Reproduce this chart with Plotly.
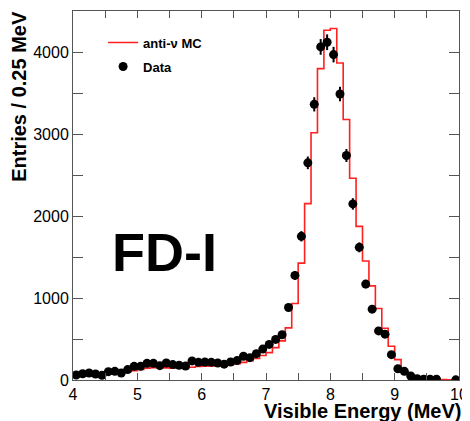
import plotly.graph_objects as go

# ---- data ----
bin_start = 4.0
bin_width = 0.1
n_bins = 60

mc_counts = [60, 65, 68, 70, 72, 78, 85, 92, 100, 115,
             130, 145, 150, 150, 148, 145, 145, 148, 155, 165,
             170, 172, 175, 180, 190, 200, 215, 235, 262, 300,
             334, 396, 478, 637, 935, 1429, 2156, 3022, 3806, 4275,
             4296, 3875, 3183, 2466, 1878, 1454, 1151, 873, 633, 413,
             249, 110, 49, 25, 15, 10, 8, 5, 3, 2]

data_counts = [61, 77, 86, 74, 57, 102, 106, 86, 127, 167,
               167, 204, 204, 175, 208, 188, 180, 171, 233, 216,
               220, 216, 208, 194, 220, 237, 290, 273, 322, 378,
               435, 496, 553, 886, 1278, 1756, 2654, 3369, 4071, 4128,
               3977, 3495, 2744, 2152, 1621, 1172, 866, 600, 560, 310,
               138, 106, 49, 15, 10, 10, 10, None, None, 2]

data_err = [12, 13, 14, 13, 11, 15, 15, 14, 17, 19,
            19, 21, 21, 20, 22, 21, 20, 20, 23, 22,
            22, 22, 22, 21, 22, 23, 26, 25, 27, 29,
            31, 33, 35, 45, 54, 63, 77, 87, 96, 96,
            95, 89, 79, 70, 60, 51, 44, 37, 35, 26,
            18, 15, 10, 6, 5, 5, 5, None, None, 2]

x_tickvals = [4, 4.5, 5, 5.5, 6, 6.5, 7, 7.5, 8, 8.5, 9, 9.5, 10]
x_ticktext = ["4", "", "5", "", "6", "", "7", "", "8", "", "9", "", "10"]
y_tickvals = [0, 500, 1000, 1500, 2000, 2500, 3000, 3500, 4000, 4500]
y_ticktext = ["0", "", "1000", "", "2000", "", "3000", "", "4000", ""]

# ---- derived bin geometry ----
edges = [round(bin_start + bin_width * i, 2) for i in range(n_bins + 1)]
centers = [round(e + bin_width / 2, 3) for e in edges[:-1]]
mc_step_y = mc_counts + [mc_counts[-1]]

FONT = "Liberation Sans, Arial, Helvetica, sans-serif"

fig = go.Figure()
fig.add_trace(go.Scatter(
    x=edges, y=mc_step_y, mode="lines", line_shape="hv",
    line=dict(color="#ff2020", width=1.6),
    name="anti-\u03bd MC", legendgroup="mc"))
fig.add_trace(go.Scatter(
    x=centers, y=data_counts, mode="markers",
    marker=dict(color="black", size=9),
    error_y=dict(type="data", array=data_err, color="black",
                 thickness=2, width=0),
    name="Data", legendgroup="data"))

axis_common = dict(showline=True, linecolor="#555", linewidth=1,
                   mirror="ticks", ticks="inside", tickcolor="#555",
                   showgrid=False, zeroline=False,
                   tickfont=dict(family=FONT, size=16, color="black"))

fig.update_xaxes(range=[4, 10], tickvals=x_tickvals, ticktext=x_ticktext,
                 ticklen=7, **axis_common)
fig.update_yaxes(range=[0, 4510], tickvals=y_tickvals, ticktext=y_ticktext,
                 ticklen=10, **axis_common)

# the page body has an 8px default margin; the figure is sized to fill the rest
fig.update_layout(
    width=462, height=413,
    margin=dict(l=65, r=11, t=3, b=41),
    paper_bgcolor="white", plot_bgcolor="white",
    showlegend=True,
    legend=dict(x=0.078, y=0.955, xanchor="left", yanchor="top",
                bgcolor="rgba(0,0,0,0)", tracegroupgap=4,
                font=dict(family=FONT, size=13, color="black", weight="bold")),
    annotations=[
        dict(text="Entries / 0.25 MeV", textangle=-90, xref="paper", yref="paper",
             x=-0.14, y=0.77, xanchor="center", yanchor="middle", showarrow=False,
             font=dict(family=FONT, size=20, color="black", weight="bold")),
        dict(text="Visible Energy (MeV)", xref="paper", yref="paper",
             x=1.01, y=-0.0845, xanchor="right", yanchor="middle", showarrow=False,
             font=dict(family=FONT, size=20, color="black", weight="bold")),
        dict(text="FD-I", xref="paper", yref="paper",
             x=0.238, y=0.347, xanchor="center", yanchor="middle", showarrow=False,
             font=dict(family=FONT, size=54, color="black", weight="bold")),
    ],
)

fig.write_html("out.html")
